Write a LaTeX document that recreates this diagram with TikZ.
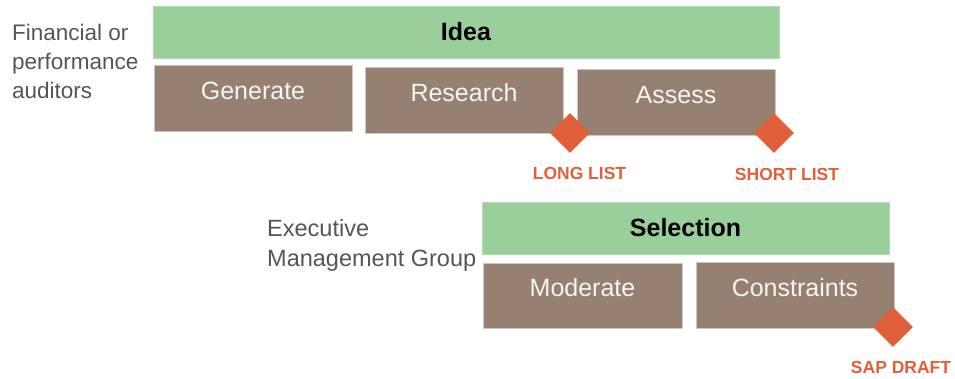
\documentclass[tikz,border=0pt]{standalone}
\usepackage{fontspec}
\setmainfont{Liberation Sans}
\definecolor{ideagreen}{HTML}{99CF9B}
\definecolor{stagebrown}{HTML}{968071}
\definecolor{markorange}{HTML}{E0603A}
\definecolor{rolegray}{HTML}{555555}
\begin{document}
\begin{tikzpicture}[x=1pt,y=-1pt,
  phase/.style={rectangle, fill=ideagreen, draw=ideagreen!75!white, line width=0.8pt,
    inner sep=0pt, font=\fontsize{25}{30}\selectfont\bfseries, text=black},
  stage/.style={rectangle, fill=stagebrown, draw=stagebrown!45!white, line width=0.8pt,
    inner sep=0pt, font=\fontsize{25}{30}\selectfont, text=white!96!black,
    text height=18pt, text depth=16pt},
  milestone/.style={rectangle, fill=markorange, rotate=45, minimum size=28pt, inner sep=0pt},
  marklabel/.style={font=\fontsize{17.5}{20}\selectfont\bfseries, text=markorange, inner sep=0pt},
  role/.style={text=rolegray, align=left, anchor=north west, inner sep=0pt}]
  \useasboundingbox (0,0) rectangle (955,378);

  % auditors' phase
  \node[role, font=\fontsize{22.5}{29}\selectfont] (auditors) at (12,24) {Financial or\\performance\\auditors};
  \node[phase, minimum width=626pt, minimum height=52pt] (idea) at (466,32) {Idea};
  \node[stage, minimum width=198pt, minimum height=66pt] (generate) at (253,98) {Generate};
  \node[stage, minimum width=198pt, minimum height=66pt] (research) at (464,100) {Research};
  \node[stage, minimum width=198pt, minimum height=66pt] (assess) at (676,102) {Assess};
  \node[milestone] (longmark) at (570,133) {};
  \node[milestone] (shortmark) at (774,133) {};
  \node[marklabel] (longlist) at (579.5,173) {LONG LIST};
  \node[marklabel] (shortlist) at (787,174) {SHORT LIST};

  % executive phase
  \node[role, font=\fontsize{23.5}{30}\selectfont] (emg) at (267,219.5) {Executive\\Management Group};
  \node[phase, minimum width=407pt, minimum height=52pt] (selection) at (685.5,228) {Selection};
  \node[stage, minimum width=199pt, minimum height=65pt] (moderate) at (582.5,295.5) {Moderate};
  \node[stage, minimum width=198pt, minimum height=66pt] (constraints) at (795,295) {Constraints};
  \node[milestone] (sapmark) at (893,327) {};
  \node[marklabel] (sapdraft) at (901,367) {SAP DRAFT};
\end{tikzpicture}
\end{document}
